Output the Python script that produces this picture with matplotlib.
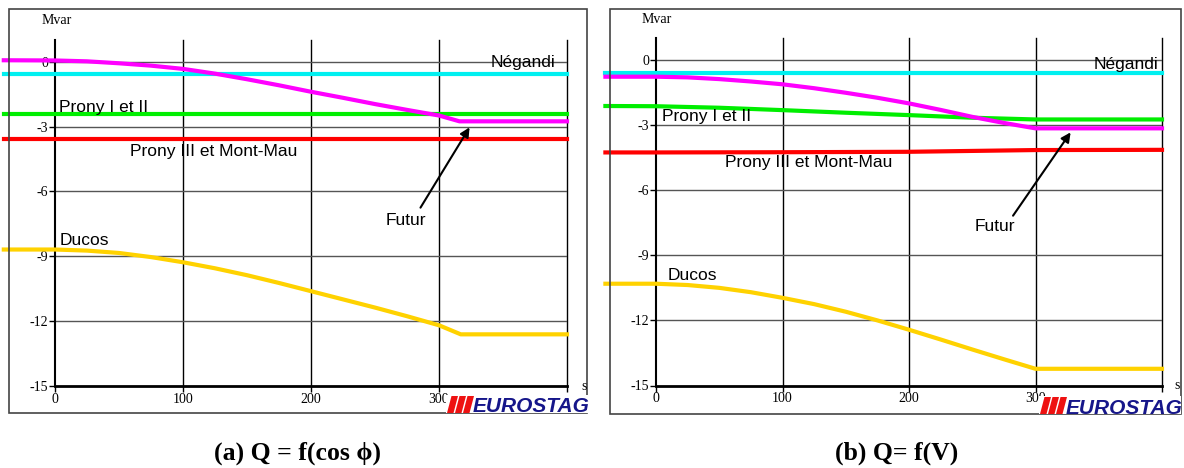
import matplotlib
matplotlib.use("Agg")
import matplotlib.pyplot as plt
from matplotlib.patches import Rectangle, Polygon

plt.rcParams['axes.unicode_minus'] = False

W, H = 1184, 468

# ---- data (time in s, Q in Mvar) ----
t_a = [-40, 0, 25, 50, 75, 100, 125, 150, 175, 200, 225, 250, 275, 300, 316, 400]
futur_a = [0.08, 0.07, 0.03, -0.06, -0.17, -0.32, -0.54, -0.8, -1.08, -1.38,
           -1.66, -1.95, -2.22, -2.48, -2.75, -2.75]
t_ducos_a = [-40, 0, 25, 50, 75, 100, 125, 150, 175, 200, 225, 250, 275, 300, 317, 400]
ducos_a = [-8.69, -8.69, -8.74, -8.85, -9.04, -9.28, -9.56, -9.88, -10.24, -10.62,
           -11.0, -11.38, -11.78, -12.2, -12.62, -12.62]
t_const = [-40, 400]
negandi_a = [-0.58, -0.58]
prony12_a = [-2.43, -2.43]
prony3_a = [-3.55, -3.55]

t_b = [-40, 0, 25, 50, 75, 100, 125, 150, 175, 200, 225, 250, 275, 300, 400]
futur_b = [-0.77, -0.77, -0.8, -0.88, -0.99, -1.12, -1.3, -1.51, -1.74, -2.0,
           -2.3, -2.62, -2.9, -3.15, -3.15]
ducos_b = [-10.31, -10.31, -10.37, -10.5, -10.7, -10.96, -11.25, -11.6, -12.0,
           -12.43, -12.88, -13.34, -13.79, -14.23, -14.23]
t_prony12_b = [-40, 0, 50, 100, 150, 200, 250, 300, 400]
prony12_b = [-2.12, -2.13, -2.2, -2.31, -2.43, -2.54, -2.66, -2.74, -2.74]
t_prony3_b = [-40, 0, 100, 200, 250, 300, 400]
prony3_b = [-4.26, -4.26, -4.25, -4.23, -4.19, -4.15, -4.14]
negandi_b = [-0.58, -0.58]

xticks = [0, 100, 200, 300, 400]
xticklabels = ['0', '100', '200', '300', '']
yticks = [0, -3, -6, -9, -12, -15]

MAGENTA = '#ff00ff'
CYAN = '#00f0f0'
GREEN = '#00ee00'
RED = '#ff0000'
YELLOW = '#ffd200'

fig = plt.figure(figsize=(W / 100, H / 100), dpi=100)


def fx(x):
    return x / W


def fy(y):
    return 1 - y / H


def make_axes(left, right, top, bottom):
    ax = fig.add_axes([fx(left), fy(bottom), fx(right - left), (bottom - top) / H])
    ax.set_xlim(0, 400)
    ax.set_ylim(-15, 1)
    ax.set_xticks(xticks)
    ax.set_xticklabels(xticklabels)
    ax.set_yticks(yticks)
    ax.set_yticklabels([str(v) for v in yticks])
    for s in ['top', 'right']:
        ax.spines[s].set_visible(False)
    ax.spines['left'].set_linewidth(1.5)
    ax.spines['bottom'].set_linewidth(2)
    ax.tick_params(length=4, width=1, labelsize=10, pad=1)
    for lab in ax.get_xticklabels() + ax.get_yticklabels():
        lab.set_fontfamily('Liberation Serif')
    # grid drawn by hand: black verticals, grey horizontals
    for x in xticks[1:]:
        ax.axvline(x, color='black', lw=1, zorder=1, clip_on=False)
    for y in yticks[:-1]:
        ax.axhline(y, color='#555555', lw=1, zorder=1)
    ax.patch.set_alpha(0)
    return ax


def frame(x0, y0, x1, y1):
    fig.patches.append(Rectangle((fx(x0), fy(y1)), fx(x1 - x0), (y1 - y0) / H,
                                 transform=fig.transFigure, fill=False,
                                 edgecolor='#444444', lw=1.2))


def logo(x0, y0, x1, y1):
    fig.patches.append(Rectangle((fx(x0), fy(y1)), fx(x1 - x0), (y1 - y0) / H,
                                 transform=fig.transFigure, facecolor='white',
                                 edgecolor='none', zorder=5))
    for i in range(3):
        xa = x0 + 1 + i * 8
        pts = [(xa, y1), (xa + 6.5, y1), (xa + 11, y0 + 1), (xa + 4.5, y0 + 1)]
        fig.patches.append(Polygon([(fx(a), fy(b)) for a, b in pts],
                                   transform=fig.transFigure, facecolor='#ee1111',
                                   edgecolor='none', zorder=6))
    fig.text(fx(x0 + 27), fy(y1 - 0.5), 'EUROSTAG', color='#16168a', fontsize=15,
             fontweight='bold', style='italic', family='Liberation Sans',
             ha='left', va='baseline', zorder=7)


lbl = dict(fontsize=12.5, family='Liberation Sans', va='baseline', clip_on=False, zorder=4)
cap = dict(family=['Liberation Serif', 'DejaVu Serif'], fontsize=18.5,
           fontweight='bold', ha='center', va='baseline')

# ---- panel (a) ----
frame(9, 9, 587, 413)
ax1 = make_axes(55, 567, 40.4, 385.7)
ax1.plot(t_const, negandi_a, color=CYAN, lw=3, clip_on=False, zorder=3)
ax1.plot(t_const, prony12_a, color=GREEN, lw=3, clip_on=False, zorder=3)
ax1.plot(t_const, prony3_a, color=RED, lw=3, clip_on=False, zorder=3)
ax1.plot(t_a, futur_a, color=MAGENTA, lw=3, clip_on=False, zorder=3)
ax1.plot(t_ducos_a, ducos_a, color=YELLOW, lw=3, clip_on=False, zorder=3)
ax1.text(390.6, -0.23, 'Négandi', ha='right', **lbl)
ax1.text(3, -2.33, 'Prony I et II', ha='left', **lbl)
ax1.text(58.6, -4.36, 'Prony III et Mont-Mau', ha='left', **lbl)
ax1.text(258.6, -7.55, 'Futur', ha='left', **lbl)
ax1.text(4, -8.48, 'Ducos', ha='left', **lbl)
ax1.annotate('', xy=(325, -2.92), xytext=(284.4, -6.86),
             arrowprops=dict(arrowstyle='-|>', color='black', lw=1.5, mutation_scale=14))
fig.text(fx(42), fy(24), 'Mvar', family='Liberation Serif', fontsize=10, ha='left', va='baseline')
fig.text(fx(581), fy(390), 's', family='Liberation Serif', fontsize=10, ha='left', va='baseline')
logo(446, 395, 588, 413)
fig.text(fx(298), fy(460), '(a) Q = f(cos ϕ)', **cap)

# ---- panel (b) ----
frame(610, 9, 1181, 414)
ax2 = make_axes(656, 1162, 38.3, 385.5)
ax2.plot(t_const, negandi_b, color=CYAN, lw=3, clip_on=False, zorder=3)
ax2.plot(t_prony12_b, prony12_b, color=GREEN, lw=3, clip_on=False, zorder=3)
ax2.plot(t_prony3_b, prony3_b, color=RED, lw=3, clip_on=False, zorder=3)
ax2.plot(t_b, futur_b, color=MAGENTA, lw=3, clip_on=False, zorder=3)
ax2.plot(t_b, ducos_b, color=YELLOW, lw=3, clip_on=False, zorder=3)
ax2.text(397.3, -0.4, 'Négandi', ha='right', **lbl)
ax2.text(4.4, -2.8, 'Prony I et II', ha='left', **lbl)
ax2.text(54.5, -4.93, 'Prony III et Mont-Mau', ha='left', **lbl)
ax2.text(252, -7.9, 'Futur', ha='left', **lbl)
ax2.text(9.5, -10.12, 'Ducos', ha='left', **lbl)
ax2.annotate('', xy=(329, -3.23), xytext=(281, -7.28),
             arrowprops=dict(arrowstyle='-|>', color='black', lw=1.5, mutation_scale=14))
fig.text(fx(642), fy(23), 'Mvar', family='Liberation Serif', fontsize=10, ha='left', va='baseline')
fig.text(fx(1174), fy(389), 's', family='Liberation Serif', fontsize=10, ha='left', va='baseline')
logo(1039, 396, 1181, 414)
fig.text(fx(897), fy(460), '(b) Q= f(V)', **cap)

fig.savefig('out.png', dpi=100)
